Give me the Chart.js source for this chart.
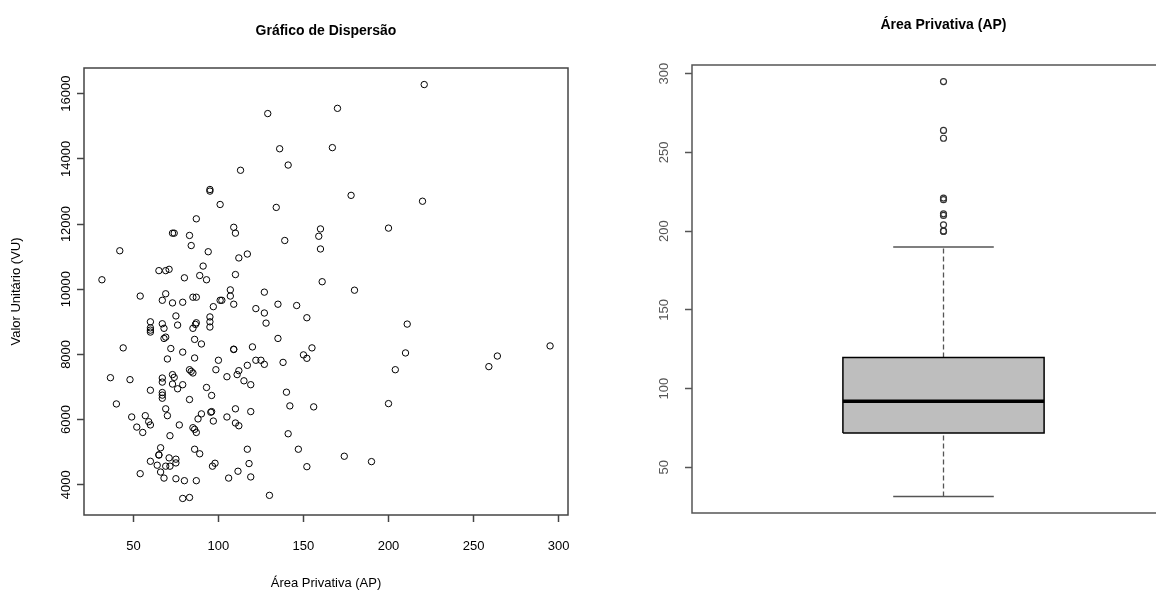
<!DOCTYPE html>
<html>
<head>
<meta charset="utf-8">
<title>Área Privativa x Valor Unitário</title>
<script src="https://cdn.jsdelivr.net/npm/chart.js@4/dist/chart.umd.min.js"></script>
<style>
    html, body { margin: 0; padding: 0; width: 1156px; height: 593px; overflow: hidden; background: #fff; }
    canvas { position: absolute; top: 0; }
    #scatterChart { left: 0; }
    #boxChart { left: 578px; }
</style>
</head>
<body>
<canvas id="scatterChart" width="578" height="593"></canvas>
<canvas id="boxChart" width="640" height="593"></canvas>
<script>
// ==========================================
// DATA
// ==========================================
const areaAP = [
    113, 95, 95, 101, 87, 109, 110, 73, 74, 83, 84, 42, 94, 117, 112, 91, 65, 69, 71, 110,
    89, 80, 93, 31.5, 107, 69, 54, 107, 67, 73, 79, 85, 87, 101, 102, 109, 97, 75, 95, 95,
    95, 60, 67, 68, 76, 87, 86.5, 85, 60, 60, 60, 68, 69, 86, 90, 44, 72, 79, 109, 109,
    70, 86, 100, 83, 84, 85, 98.5, 112, 117, 36.5, 48, 67, 67, 73, 74, 105, 111, 115, 119, 73,
    79, 60, 76, 67, 67, 67, 93, 96, 83, 40, 69, 70, 49, 57, 59, 60, 52, 55.5, 77, 85,
    86, 87, 88, 90, 95.5, 96, 97, 105, 110, 110, 112, 119, 71.5, 66, 65, 65, 60, 64, 66, 68,
    71, 75, 75, 69, 71.5, 54, 75, 80, 87, 86, 89, 96.5, 98, 106, 111.5, 117, 118, 119, 79, 83,
    221, 170, 129, 136, 167, 141, 178, 220, 134, 200, 160, 159, 139, 160, 161, 180, 127, 135, 146, 122,
    127, 152, 128, 211, 135, 120, 155, 295, 210, 150, 152, 122, 125, 127, 138, 264, 259, 204, 140, 142,
    156, 200, 141, 147, 152, 174, 190, 130
];
const valorVU = [
    13650, 13060, 13010, 12600, 12160, 11900, 11720, 11720, 11720, 11650, 11340, 11180, 11150, 11080, 10960, 10710, 10570, 10570, 10610, 10450,
    10420, 10350, 10290, 10290, 9980, 9860, 9790, 9790, 9660, 9580, 9600, 9755, 9755, 9660, 9660, 9540, 9465, 9180, 9150, 9000,
    8840, 9000, 8940, 8800, 8900, 8970, 8920, 8800, 8815, 8745, 8685, 8490, 8530, 8460, 8320, 8200, 8180, 8070, 8160, 8150,
    7860, 7890, 7820, 7530, 7480, 7430, 7530, 7500, 7665, 7285, 7225, 7275, 7150, 7380, 7295, 7315, 7380, 7190, 7070, 7090,
    7070, 6900, 6945, 6830, 6750, 6655, 6985, 6740, 6615, 6480, 6330, 6120, 6080, 6120, 5935, 5835, 5770, 5605, 5835, 5750,
    5700, 5605, 6020, 6175, 6225, 6245, 5955, 6080, 6330, 5895, 5810, 6245, 5505, 5135, 4910, 4920, 4720, 4600, 4390, 4205,
    4825, 4785, 4670, 4570, 4570, 4340, 4185, 4125, 4125, 5090, 4950, 4570, 4660, 4205, 4415, 5090, 4650, 4240, 3580, 3610,
    16280, 15550, 15390, 14310, 14345, 13810, 12880, 12700, 12510, 11875, 11850, 11625, 11495, 11235, 10230, 9970, 9910, 9540, 9500, 9405,
    9270, 9125, 8960, 8930, 8490, 8230, 8200, 8260, 8045, 7985, 7880, 7820, 7820, 7695, 7755, 7950, 7625, 7530, 6840, 6420,
    6390, 6490, 5565, 5090, 4555, 4875, 4710, 3675
];

const xTicks = [50, 100, 150, 200, 250, 300];
const yTicks = [4000, 6000, 8000, 10000, 12000, 14000, 16000];
const boxTicks = [50, 100, 150, 200, 250, 300];

// boxplot: lower whisker, Q1, median, Q3, upper whisker
const boxStats = [31.5, 71.7, 92, 119.8, 190];

// ==========================================
// HELPERS
// ==========================================
const FONT = "'Liberation Sans', Arial, sans-serif";

// R style axis range: data range extended 4% on each side
function rRange(values) {
    const lo = Math.min(...values);
    const hi = Math.max(...values);
    const pad = (hi - lo) * 0.04;
    return [lo - pad, hi + pad];
}

function fixedTicks(list) {
    return function(scale) {
        scale.ticks = list.map(v => ({ value: v }));
    };
}

// plain numbers, no thousands separator
function plainLabel(value) {
    return String(value);
}

// box around the plot region, like R's box()
const framePlugin = {
    id: 'frame',
    afterDraw(chart, args, opts) {
        const { ctx, chartArea } = chart;
        ctx.save();
        ctx.strokeStyle = opts.color;
        ctx.lineWidth = opts.width;
        ctx.strokeRect(chartArea.left, chartArea.top, chartArea.right - chartArea.left, chartArea.bottom - chartArea.top);
        ctx.restore();
    }
};

// ==========================================
// SCATTER PLOT
// ==========================================
const [xMin, xMax] = rRange(areaAP);
const [yMin, yMax] = rRange(valorVU);

new Chart(document.getElementById('scatterChart'), {
    type: 'scatter',
    data: {
        datasets: [{
            data: areaAP.map((x, i) => ({ x: x, y: valorVU[i] })),
            pointStyle: 'circle',
            pointRadius: 3.2,
            pointBorderWidth: 1,
            borderColor: '#000',
            backgroundColor: 'rgba(0,0,0,0)'
        }]
    },
    options: {
        responsive: false,
        animation: false,
        events: [],
        layout: { padding: { left: 0, right: 10, top: 0, bottom: 0 } },
        plugins: {
            legend: { display: false },
            tooltip: { enabled: false },
            title: {
                display: true,
                fullSize: false,
                text: 'Gráfico de Dispersão',
                color: '#000',
                font: { family: FONT, size: 14, weight: 'bold' },
                padding: { top: 22.6, bottom: 28.6 }
            },
            frame: { color: '#444', width: 1.5 }
        },
        scales: {
            x: {
                type: 'linear',
                min: xMin,
                max: xMax,
                afterBuildTicks: fixedTicks(xTicks),
                afterFit: function(scale) {
                    scale.height = 78;
                    scale.paddingLeft = 0;
                    scale.paddingRight = 0;
                },
                grid: { drawOnChartArea: false, tickLength: 7, tickColor: '#444', tickWidth: 1.5 },
                border: { display: false },
                ticks: { color: '#000', font: { family: FONT, size: 13 }, padding: 17, maxRotation: 0, autoSkip: false },
                title: {
                    display: true,
                    text: 'Área Privativa (AP)',
                    color: '#000',
                    font: { family: FONT, size: 13 },
                    padding: { top: 0, bottom: 2 }
                }
            },
            y: {
                type: 'linear',
                min: yMin,
                max: yMax,
                afterBuildTicks: fixedTicks(yTicks),
                afterFit: function(scale) { scale.width = 84; },
                grid: { drawOnChartArea: false, tickLength: 7, tickColor: '#444', tickWidth: 1.5 },
                border: { display: false },
                ticks: {
                    color: '#000',
                    font: { family: FONT, size: 13 },
                    minRotation: 90,
                    maxRotation: 90,
                    crossAlign: 'center',
                    padding: -7,
                    autoSkip: false,
                    callback: plainLabel
                },
                title: {
                    display: true,
                    text: 'Valor Unitário (VU)',
                    color: '#000',
                    font: { family: FONT, size: 13 },
                    padding: { top: 9, bottom: 0 }
                }
            }
        }
    },
    plugins: [framePlugin]
});

// ==========================================
// BOXPLOT
// ==========================================
const [bMin, bMax] = rRange(areaAP);
const [lowW, q1, med, q3, highW] = boxStats;
const outliers = areaAP.filter(v => v > highW || v < lowW);
const boxHalf = 0.2;   // box half width (x units, plot spans 0.5..1.5)
const capHalf = 0.1;   // whisker cap half width

const lineDefaults = { pointRadius: 0, fill: false, tension: 0 };

new Chart(document.getElementById('boxChart'), {
    type: 'line',
    data: {
        datasets: [
            Object.assign({}, lineDefaults, {
                label: 'outliers',
                data: outliers.map(v => ({ x: 1, y: v })),
                showLine: false,
                pointRadius: 3,
                pointBorderWidth: 1.2,
                pointBorderColor: '#333',
                pointBackgroundColor: 'rgba(0,0,0,0)'
            }),
            Object.assign({}, lineDefaults, {
                label: 'median',
                data: [{ x: 1 - boxHalf, y: med }, { x: 1 + boxHalf, y: med }],
                borderColor: '#000',
                borderWidth: 3.5
            }),
            Object.assign({}, lineDefaults, {
                label: 'box',
                data: [
                    { x: 1 - boxHalf, y: q1 }, { x: 1 + boxHalf, y: q1 },
                    { x: 1 + boxHalf, y: q3 }, { x: 1 - boxHalf, y: q3 },
                    { x: 1 - boxHalf, y: q1 }
                ],
                borderColor: '#000',
                borderWidth: 1.5
            }),
            Object.assign({}, lineDefaults, {
                label: 'upper whisker',
                data: [{ x: 1, y: q3 }, { x: 1, y: highW }],
                borderColor: '#555',
                borderWidth: 1.3,
                borderDash: [5, 3]
            }),
            Object.assign({}, lineDefaults, {
                label: 'lower whisker',
                data: [{ x: 1, y: lowW }, { x: 1, y: q1 }],
                borderColor: '#555',
                borderWidth: 1.3,
                borderDash: [5, 3]
            }),
            Object.assign({}, lineDefaults, {
                label: 'upper cap',
                data: [{ x: 1 - capHalf, y: highW }, { x: 1 + capHalf, y: highW }],
                borderColor: '#555',
                borderWidth: 1.5
            }),
            Object.assign({}, lineDefaults, {
                label: 'lower cap',
                data: [{ x: 1 - capHalf, y: lowW }, { x: 1 + capHalf, y: lowW }],
                borderColor: '#555',
                borderWidth: 1.5
            }),
            Object.assign({}, lineDefaults, {
                label: 'box fill',
                data: [{ x: 1 - boxHalf, y: q3 }, { x: 1 + boxHalf, y: q3 }],
                borderWidth: 0,
                borderColor: 'rgba(0,0,0,0)',
                backgroundColor: '#bebebe',
                fill: { value: q1 }
            })
        ]
    },
    options: {
        responsive: false,
        animation: false,
        events: [],
        layout: { padding: { left: 0, right: 23, top: 0, bottom: 80 } },
        plugins: {
            legend: { display: false },
            tooltip: { enabled: false },
            title: {
                display: true,
                fullSize: false,
                text: 'Área Privativa (AP)',
                color: '#000',
                font: { family: FONT, size: 14, weight: 'bold' },
                padding: { top: 17, bottom: 31.2 }
            },
            frame: { color: '#555', width: 1.5 }
        },
        scales: {
            x: { type: 'linear', min: 0.5, max: 1.5, display: false },
            y: {
                type: 'linear',
                min: bMin,
                max: bMax,
                afterBuildTicks: fixedTicks(boxTicks),
                afterFit: function(scale) { scale.width = 114; },
                grid: { drawOnChartArea: false, tickLength: 7, tickColor: '#555', tickWidth: 1.5 },
                border: { display: false },
                ticks: {
                    color: '#555',
                    font: { family: FONT, size: 13 },
                    minRotation: 90,
                    maxRotation: 90,
                    crossAlign: 'center',
                    padding: 10,
                    autoSkip: false,
                    callback: plainLabel
                }
            }
        }
    },
    plugins: [framePlugin]
});
</script>
</body>
</html>
